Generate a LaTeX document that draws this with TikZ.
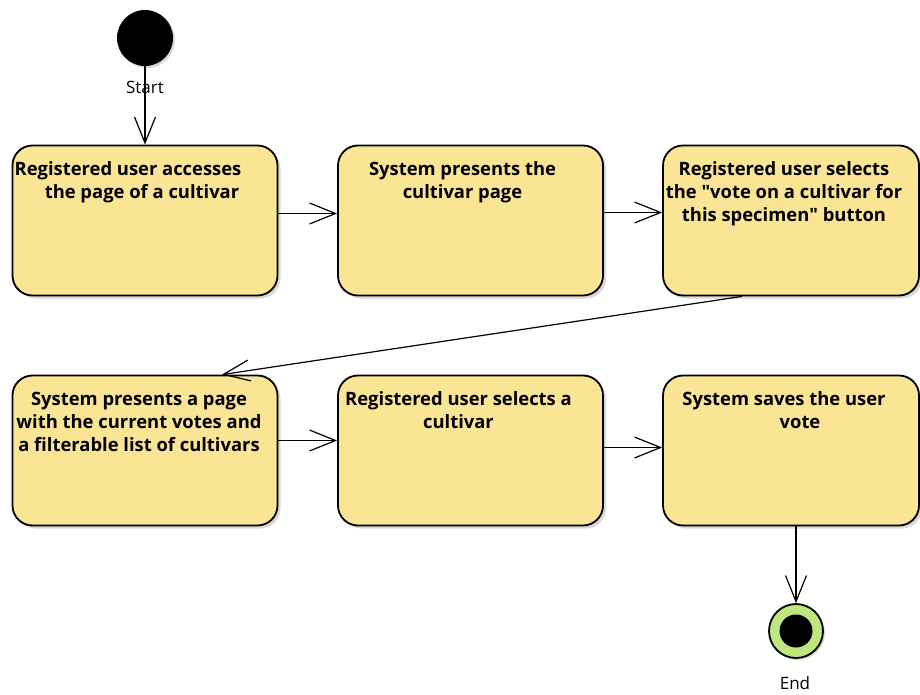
\documentclass[tikz,border=0pt]{standalone}
\usepackage{fontspec}
\setmainfont{Open Sans}
\usepackage{tikz}
\usetikzlibrary{arrows.meta,shadows}
\definecolor{actfill}{RGB}{249,229,148}
\definecolor{endring}{RGB}{192,230,128}

\begin{document}
\begin{tikzpicture}[x=1pt,y=-1pt,
  act/.style={draw,line width=1.8pt,rounded corners=20pt,fill=actfill,
    minimum width=265pt,minimum height=150pt,
    drop shadow={shadow xshift=3pt,shadow yshift=-3pt,fill=black!15,opacity=1}},
  acttext/.style={anchor=north,align=center,inner sep=0pt,
    font=\fontsize{18.4}{23}\selectfont\bfseries},
  flow/.style={line width=1.2pt,-{Straight Barb[length=26pt,width=21pt,line width=1.2pt]}},
  lbl/.style={font=\fontsize{17}{20}\selectfont}]
  \useasboundingbox (0,0) rectangle (920,695);

  \node[circle,fill=black,minimum size=56pt,inner sep=0pt,
    drop shadow={shadow xshift=2pt,shadow yshift=-2pt,fill=black!15,opacity=1}] (start) at (145,38) {};
  \node[lbl] (startlbl) at (145,87) {Start};

  \node[act] (b1) at (145,220.5) {};
  \node[act] (b2) at (470.5,220.5) {};
  \node[act,minimum width=256pt] (b3) at (791,220.5) {};
  \node[act] (b4) at (145,450.5) {};
  \node[act] (b5) at (470.5,450.5) {};
  \node[act,minimum width=256pt] (b6) at (791,450.5) {};

  \node[acttext] (t1) at ([xshift=-17pt,yshift=-17pt]b1.north) {Registered user accesses\\\hspace*{28pt}the page of a cultivar};
  \node[acttext] (t2) at ([xshift=-8pt,yshift=-17pt]b2.north) {System presents the\\cultivar page};
  \node[acttext] (t3) at ([xshift=-7pt,yshift=-17pt]b3.north) {Registered user selects\\the \textquotedbl vote on a cultivar for\\this specimen\textquotedbl{} button};
  \node[acttext] (t4) at ([xshift=-6pt,yshift=-17pt]b4.north) {System presents a page\\with the current votes and\\a filterable list of cultivars};
  \node[acttext] (t5) at ([xshift=-12pt,yshift=-17pt]b5.north) {Registered user selects a\\cultivar};
  \node[acttext] (t6) at ([xshift=-7pt,yshift=-17pt]b6.north) {System saves the user\\\hspace*{32pt}vote};

  \node[circle,draw,line width=1.8pt,fill=endring,minimum size=54pt,inner sep=0pt,
    drop shadow={shadow xshift=2pt,shadow yshift=-2pt,fill=black!15,opacity=1}] (end) at (796,631) {};
  \node[circle,fill=black,minimum size=33pt,inner sep=0pt] (endcore) at (end) {};
  \node[lbl] (endlbl) at (795,683) {End};

  \draw[flow] (start) -- (b1);
  \draw[flow] ([yshift=7pt]b1.east) -- ([yshift=7pt]b2.west);
  \draw[flow] ([yshift=8pt]b2.east) -- ([yshift=8pt]b3.west);
  \draw[flow] ([xshift=-49pt]b3.south) -- ([xshift=77pt]b4.north);
  \draw[flow] ([yshift=10pt]b4.east) -- ([yshift=10pt]b5.west);
  \draw[flow] ([yshift=3pt]b5.east) -- ([yshift=3pt]b6.west);
  \draw[flow] ([xshift=5pt]b6.south) -- (end);
\end{tikzpicture}
\end{document}
